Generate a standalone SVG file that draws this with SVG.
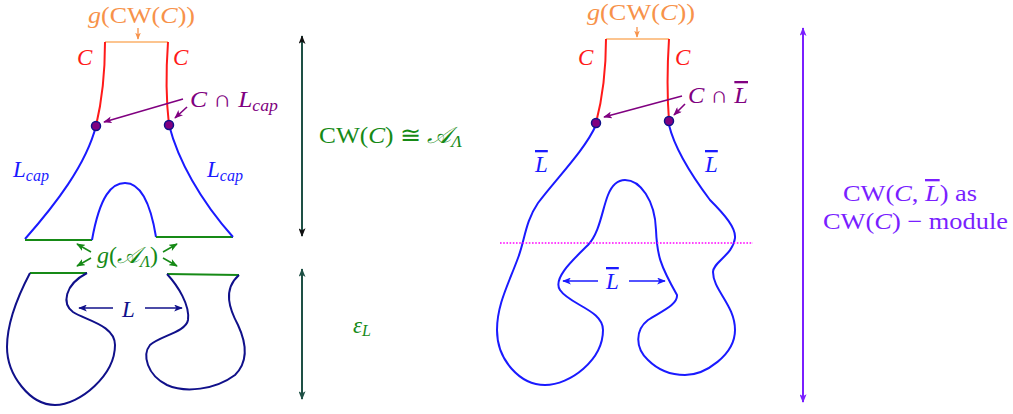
<svg xmlns="http://www.w3.org/2000/svg" width="1013" height="414" viewBox="0 0 1013 414">
<style>
text{font-family:"Liberation Serif","DejaVu Serif",serif;font-size:23px}
.i{font-style:italic}
.sub{font-size:16px;font-style:italic}
.ol{text-decoration:overline}
.or{fill:#f7924a}.rd{fill:#ff1a1a}.pu{fill:#800080}.bl{fill:#1a1aff}.nv{fill:#10108a}.gr{fill:#168a16}.vi{fill:#7a1fff}
.s{fill:none;stroke-width:2}
</style>
<defs>
<marker id="aO" viewBox="0 0 10 8" refX="9" refY="4" markerWidth="7" markerHeight="6" orient="auto-start-reverse" markerUnits="userSpaceOnUse"><path d="M0,0 L10,4 L0,8 L2.5,4z" fill="#f7924a"/></marker>
<marker id="aP" viewBox="0 0 10 8" refX="9" refY="4" markerWidth="9" markerHeight="7" orient="auto-start-reverse" markerUnits="userSpaceOnUse"><path d="M0,0 L10,4 L0,8 L2.5,4z" fill="#800080"/></marker>
<marker id="aG" viewBox="0 0 10 8" refX="9" refY="4" markerWidth="9" markerHeight="7" orient="auto-start-reverse" markerUnits="userSpaceOnUse"><path d="M0,0 L10,4 L0,8 L2.5,4z" fill="#168a16"/></marker>
<marker id="aN" viewBox="0 0 10 8" refX="9" refY="4" markerWidth="9" markerHeight="7" orient="auto-start-reverse" markerUnits="userSpaceOnUse"><path d="M0,0 L10,4 L0,8 L2.5,4z" fill="#10108a"/></marker>
<marker id="aB" viewBox="0 0 10 8" refX="9" refY="4" markerWidth="9" markerHeight="7" orient="auto-start-reverse" markerUnits="userSpaceOnUse"><path d="M0,0 L10,4 L0,8 L2.5,4z" fill="#1a1aff"/></marker>
<marker id="aK" viewBox="0 0 10 8" refX="9" refY="4" markerWidth="9" markerHeight="7" orient="auto-start-reverse" markerUnits="userSpaceOnUse"><path d="M0,0 L10,4 L0,8 L2.5,4z" fill="#111"/></marker>
<marker id="aT" viewBox="0 0 10 8" refX="9" refY="4" markerWidth="9" markerHeight="7" orient="auto-start-reverse" markerUnits="userSpaceOnUse"><path d="M0,0 L10,4 L0,8 L2.5,4z" fill="#1e5045"/></marker>
<marker id="aV" viewBox="0 0 10 8" refX="9" refY="4" markerWidth="9" markerHeight="7" orient="auto-start-reverse" markerUnits="userSpaceOnUse"><path d="M0,0 L10,4 L0,8 L2.5,4z" fill="#7a1fff"/></marker>
</defs>

<!-- Left diagram -->
<g id="left-top">
<path class="s" d="M105,42 L168,42" stroke="#fcc48f"/>
<path class="s" d="M105,42 C105,75 101,105 96,126" stroke="#ff1a1a"/>
<path class="s" d="M168,42 C166,70 166,100 169,125" stroke="#ff1a1a"/>
<path class="s" d="M96,126 C86,165 55,205 25,239" stroke="#1a1aff"/>
<path class="s" d="M25,240 L92,240" stroke="#168a16"/>
<path class="s" d="M92,240 C100,195 112,183 125,183 C140,183 150,200 156,237" stroke="#1a1aff"/>
<path class="s" d="M156,237 L233,237" stroke="#168a16"/>
<path class="s" d="M169,125 C178,160 200,200 233,237" stroke="#1a1aff"/>
<circle cx="96" cy="126" r="4.5" fill="#800080" stroke="#10108a" stroke-width="1.5"/>
<circle cx="169" cy="125" r="4.5" fill="#800080" stroke="#10108a" stroke-width="1.5"/>
</g>
<g id="left-bottom">
<path class="s" d="M30,273 L87,273" stroke="#168a16"/>
<path class="s" d="M167,274 L239,275" stroke="#168a16"/>
<path class="s" d="M30,273 C20,292 7,320 7,347 C7,375 30,405 55,405 C80,405 115,375 115,345 C115,325 85,320 73,312 C62,304 64,285 87,273" stroke="#10108a"/>
<path class="s" d="M167,274 C178,286 190,305 188,320 C186,332 160,336 150,345 C142,355 147,375 167,385 C185,393 215,390 235,375 C250,360 245,340 238,325 C230,310 222,290 239,275" stroke="#10108a"/>
</g>

<!-- Right diagram -->
<g id="right-shape">
<path class="s" d="M606,39 L669,39" stroke="#fcc48f"/>
<path class="s" d="M606,39 C606,70 602,100 596,123" stroke="#ff1a1a"/>
<path class="s" d="M669,39 C667,70 667,95 669,121" stroke="#ff1a1a"/>
<path class="s" d="M596,125 C585,150 555,180 538,203 C525,222 525,240 518,258 C508,285 497,305 497,330 C497,360 520,385 545,385 C570,385 603,360 603,330 C603,310 570,305 560,290 C552,278 575,258 588,245 C600,232 602,210 608,195 C612,185 618,180 625,180 C640,180 655,200 656,230 C657,255 660,265 677,295 C678,305 660,312 648,320 C635,330 635,348 648,360 C660,372 675,375 685,375 C705,375 735,355 735,330 C735,305 713,290 713,272 C713,262 733,255 735,238 C736,228 725,215 710,200 C695,180 675,150 669,125" stroke="#1a1aff"/>
<path d="M500,243 L753,243" stroke="#ff00ff" stroke-width="1.6" stroke-dasharray="1.6 1.6" fill="none"/>
<circle cx="596" cy="123" r="4.5" fill="#800080" stroke="#10108a" stroke-width="1.5"/>
<circle cx="669" cy="121" r="4.5" fill="#800080" stroke="#10108a" stroke-width="1.5"/>
</g>

<g id="connectors" fill="none">
<path d="M138,28 L138,39" stroke="#f7924a" stroke-width="1.3" marker-end="url(#aO)"/>
<path d="M183,99 L104,122" stroke="#800080" stroke-width="1.6" marker-end="url(#aP)"/>
<path d="M187,107 L175,118" stroke="#800080" stroke-width="1.6" marker-end="url(#aP)"/>
<path d="M91,252 L77,244" stroke="#168a16" stroke-width="1.6" marker-end="url(#aG)"/>
<path d="M91,258 L77,266" stroke="#168a16" stroke-width="1.6" marker-end="url(#aG)"/>
<path d="M163,252 L177,244" stroke="#168a16" stroke-width="1.6" marker-end="url(#aG)"/>
<path d="M163,258 L177,266" stroke="#168a16" stroke-width="1.6" marker-end="url(#aG)"/>
<path d="M113,308 L79,308" stroke="#10108a" stroke-width="1.6" marker-end="url(#aN)"/>
<path d="M145,308 L182,308" stroke="#10108a" stroke-width="1.6" marker-end="url(#aN)"/>
<path d="M302,36 L302,236" stroke="#1e5045" stroke-width="2" marker-start="url(#aK)" marker-end="url(#aK)"/>
<path d="M302,269 L302,399" stroke="#1e5045" stroke-width="2" marker-start="url(#aT)" marker-end="url(#aT)"/>
<path d="M637,27 L637,37" stroke="#f7924a" stroke-width="1.3" marker-end="url(#aO)"/>
<path d="M682,96 L604,117" stroke="#800080" stroke-width="1.6" marker-end="url(#aP)"/>
<path d="M685,104 L674,115" stroke="#800080" stroke-width="1.6" marker-end="url(#aP)"/>
<path d="M598,281 L563,281" stroke="#1a1aff" stroke-width="1.6" marker-end="url(#aB)"/>
<path d="M629,281 L665,281" stroke="#1a1aff" stroke-width="1.6" marker-end="url(#aB)"/>
<path d="M803,28 L803,402" stroke="#7a1fff" stroke-width="2" marker-start="url(#aV)" marker-end="url(#aV)"/>
</g>

<g id="labels">
<text class="or" x="88" y="23" textLength="107" lengthAdjust="spacingAndGlyphs"><tspan class="i">g</tspan>(CW(<tspan class="i">C</tspan>))</text>
<text class="rd i" x="77" y="65">C</text>
<text class="rd i" x="173" y="65">C</text>
<text class="pu" x="190" y="107" textLength="88" lengthAdjust="spacingAndGlyphs"><tspan class="i">C</tspan> ∩ <tspan class="i">L</tspan><tspan class="sub" dy="4">cap</tspan></text>
<text class="bl" x="13" y="177"><tspan class="i">L</tspan><tspan class="sub" dy="4">cap</tspan></text>
<text class="bl" x="207" y="177"><tspan class="i">L</tspan><tspan class="sub" dy="4">cap</tspan></text>
<text class="gr" x="97" y="263" textLength="61" lengthAdjust="spacingAndGlyphs"><tspan class="i">g</tspan>(<tspan class="i">𝒜</tspan><tspan class="sub" dy="4" font-style="normal">Λ</tspan><tspan dy="-4">)</tspan></text>
<text class="nv i" x="122" y="317">L</text>
<text class="gr" x="319" y="143" textLength="143" lengthAdjust="spacingAndGlyphs">CW(<tspan class="i">C</tspan>) ≅ <tspan class="i">𝒜</tspan><tspan class="sub" dy="4" font-style="normal">Λ</tspan></text>
<text class="gr" x="353" y="333"><tspan class="i">ε</tspan><tspan class="sub" dy="3">L</tspan></text>

<text class="or" x="587" y="20" textLength="108" lengthAdjust="spacingAndGlyphs"><tspan class="i">g</tspan>(CW(<tspan class="i">C</tspan>))</text>
<text class="rd i" x="578" y="65">C</text>
<text class="rd i" x="675" y="65">C</text>
<text class="pu" x="688" y="103" textLength="60" lengthAdjust="spacingAndGlyphs"><tspan class="i">C</tspan> ∩ <tspan class="i ol">L</tspan></text>
<text class="bl i ol" x="535" y="172">L</text>
<text class="bl i ol" x="705" y="172">L</text>
<text class="bl i ol" x="606" y="289">L</text>
<text class="vi" x="843" y="201" textLength="134" lengthAdjust="spacingAndGlyphs">CW(<tspan class="i">C</tspan>, <tspan class="i ol">L</tspan>) as</text>
<text class="vi" x="823" y="229" textLength="185" lengthAdjust="spacingAndGlyphs">CW(<tspan class="i">C</tspan>) − module</text>
</g>
</svg>
